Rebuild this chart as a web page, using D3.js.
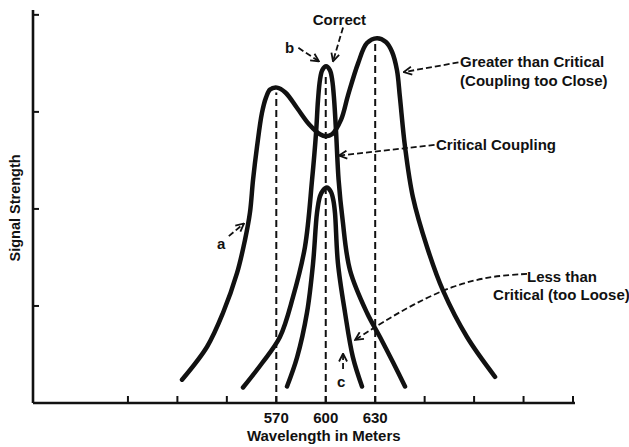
<!DOCTYPE html>
<html>
<head>
<meta charset="utf-8">
<script src="https://cdn.jsdelivr.net/npm/d3@7"></script>
<style>
  body { margin: 0; background: #fff; }
  text { font-family: "Liberation Sans", Arial, sans-serif; font-weight: bold; fill: #111; }
</style>
</head>
<body>
<div id="chart"></div>
<script>
// wavelength (m) / relative signal strength
const greaterThanCritical = [
  [512.8, 0.24], [528.0, 0.58], [537.7, 0.93], [546.2, 1.34], [551.0, 1.68],
  [554.0, 1.96], [555.9, 2.30], [558.3, 2.64], [561.3, 2.99], [563.8, 3.15],
  [566.2, 3.23], [570.4, 3.25], [575.5, 3.20], [582.6, 3.04], [590.0, 2.87],
  [596.5, 2.77], [600.2, 2.75], [603.8, 2.77], [609.3, 2.92], [613.5, 3.17],
  [619.6, 3.50], [625.0, 3.71], [631.1, 3.76], [636.5, 3.72], [640.2, 3.62],
  [643.2, 3.43], [645.0, 3.15], [648.1, 2.64], [652.9, 2.12], [661.4, 1.61],
  [671.1, 1.16], [685.7, 0.68], [702.7, 0.27]
];
const criticalCoupling = [
  [549.8, 0.16], [561.3, 0.41], [572.2, 0.68], [580.1, 1.09], [587.4, 1.61],
  [591.7, 2.30], [594.1, 2.78], [595.3, 3.12], [596.5, 3.33], [597.9, 3.43],
  [600.2, 3.47], [602.5, 3.43], [603.9, 3.33], [605.1, 3.12], [606.3, 2.78],
  [607.8, 2.30], [610.2, 1.89], [614.7, 1.37], [625.0, 0.93], [632.9, 0.68],
  [640.8, 0.42], [648.1, 0.17]
];
const lessThanCritical = [
  [576.5, 0.17], [582.6, 0.47], [588.6, 0.93], [592.3, 1.44], [594.7, 1.96],
  [596.5, 2.13], [598.3, 2.19], [600.6, 2.22], [603.0, 2.18], [604.6, 2.09],
  [605.6, 1.96], [607.4, 1.44], [611.7, 0.93], [616.5, 0.47], [622.0, 0.17]
];

// dashed verticals under the peaks: [wavelength, top]
const peakLines = [[570, 3.20], [600, 3.36], [630, 3.72]];

const xTicks = [480, 510, 540, 570, 600, 630, 660, 690, 720, 750];
const xTickLabels = { 570: "570", 600: "600", 630: "630" };
const yTicks = [1, 2, 3, 4];

const width = 629, height = 447;

const x = d3.scaleLinear().domain([422.4, 750]).range([33, 573]);
const y = d3.scaleLinear().domain([0, 4.05]).range([403, 10]);

const svg = d3.select("#chart").append("svg")
  .attr("width", width)
  .attr("height", height);

const defs = svg.append("defs");
defs.append("marker")
  .attr("id", "arrow")
  .attr("viewBox", "0 0 10 10")
  .attr("refX", 9).attr("refY", 5)
  .attr("markerWidth", 10).attr("markerHeight", 10)
  .attr("markerUnits", "userSpaceOnUse")
  .attr("orient", "auto")
  .append("path")
  .attr("d", "M1,1 L9,5 L1,9")
  .attr("fill", "none")
  .attr("stroke", "#111")
  .attr("stroke-width", 1.8);

// axes
svg.append("line")
  .attr("x1", x.range()[0]).attr("x2", x.range()[1] + 2)
  .attr("y1", y(0)).attr("y2", y(0))
  .attr("stroke", "#111").attr("stroke-width", 2.6);
svg.append("line")
  .attr("x1", x.range()[0]).attr("x2", x.range()[0])
  .attr("y1", y(0)).attr("y2", y.range()[1])
  .attr("stroke", "#111").attr("stroke-width", 2.6);

svg.append("g").selectAll("line")
  .data(xTicks)
  .join("line")
  .attr("x1", (d) => x(d)).attr("x2", (d) => x(d))
  .attr("y1", y(0)).attr("y2", y(0) - 7)
  .attr("stroke", "#111").attr("stroke-width", 2);

svg.append("g").selectAll("line")
  .data(yTicks)
  .join("line")
  .attr("x1", x.range()[0]).attr("x2", x.range()[0] + 6)
  .attr("y1", (d) => y(d)).attr("y2", (d) => y(d))
  .attr("stroke", "#111").attr("stroke-width", 2);

svg.append("g").selectAll("text")
  .data(xTicks.filter((d) => xTickLabels[d]))
  .join("text")
  .attr("x", (d) => x(d))
  .attr("y", y(0) + 20)
  .attr("text-anchor", "middle")
  .style("font-size", "15px")
  .text((d) => xTickLabels[d]);

svg.append("text")
  .attr("x", x(600) - 2)
  .attr("y", 441)
  .attr("text-anchor", "middle")
  .style("font-size", "15px")
  .text("Wavelength in Meters");

svg.append("text")
  .attr("transform", `translate(20,${y(2.01)}) rotate(-90)`)
  .attr("text-anchor", "middle")
  .style("font-size", "14.5px")
  .text("Signal Strength");

// dashed peak lines
svg.append("g").selectAll("line")
  .data(peakLines)
  .join("line")
  .attr("x1", (d) => x(d[0])).attr("x2", (d) => x(d[0]))
  .attr("y1", y(0)).attr("y2", (d) => y(d[1]))
  .attr("stroke", "#111")
  .attr("stroke-width", 2)
  .attr("stroke-dasharray", "7,4");

// response curves
const line = d3.line()
  .x((d) => x(d[0]))
  .y((d) => y(d[1]))
  .curve(d3.curveCatmullRom.alpha(0.5));

svg.append("g")
  .attr("fill", "none")
  .attr("stroke", "#111")
  .attr("stroke-width", 4.5)
  .attr("stroke-linecap", "round")
  .selectAll("path")
  .data([greaterThanCritical, criticalCoupling, lessThanCritical])
  .join("path")
  .attr("d", line);

// annotations: text + dashed leader arrows, in data units
const labels = [
  { text: "Correct", at: [608.3, 3.90], anchor: "middle" },
  { text: "b", at: [578.1, 3.61], anchor: "middle" },
  { text: "Greater than Critical", at: [681.5, 3.46], anchor: "start" },
  { text: "(Coupling too Close)", at: [681.5, 3.27], anchor: "start" },
  { text: "Critical Coupling", at: [666.9, 2.61], anchor: "start" },
  { text: "Less than", at: [722.1, 1.25], anchor: "start" },
  { text: "Critical (too Loose)", at: [701.5, 1.06], anchor: "start" },
  { text: "a", at: [536.5, 1.59], anchor: "middle" },
  { text: "c", at: [609.3, 0.17], anchor: "middle" }
];

const leaders = [
  [[610.5, 3.87], [604.4, 3.52]],
  [[583.4, 3.66], [595.9, 3.52]],
  [[680.5, 3.51], [647.3, 3.41]],
  [[666.0, 2.66], [608.0, 2.55]],
  [[722.1, 1.33], [701.0, 1.31], [676.7, 1.21], [652.4, 1.01], [634.2, 0.83], [617.8, 0.65]],
  [[541.2, 1.72], [550.4, 1.85]],
  [[610.5, 0.35], [610.5, 0.51]]
];

svg.append("g").selectAll("text")
  .data(labels)
  .join("text")
  .attr("x", (d) => x(d.at[0]))
  .attr("y", (d) => y(d.at[1]))
  .attr("text-anchor", (d) => d.anchor)
  .style("font-size", "15px")
  .text((d) => d.text);

const leaderLine = d3.line()
  .x((d) => x(d[0]))
  .y((d) => y(d[1]))
  .curve(d3.curveBasis);

svg.append("g")
  .attr("fill", "none")
  .attr("stroke", "#111")
  .attr("stroke-width", 1.8)
  .attr("stroke-dasharray", "6,3")
  .selectAll("path")
  .data(leaders)
  .join("path")
  .attr("d", leaderLine)
  .attr("marker-end", "url(#arrow)");
</script>
</body>
</html>
